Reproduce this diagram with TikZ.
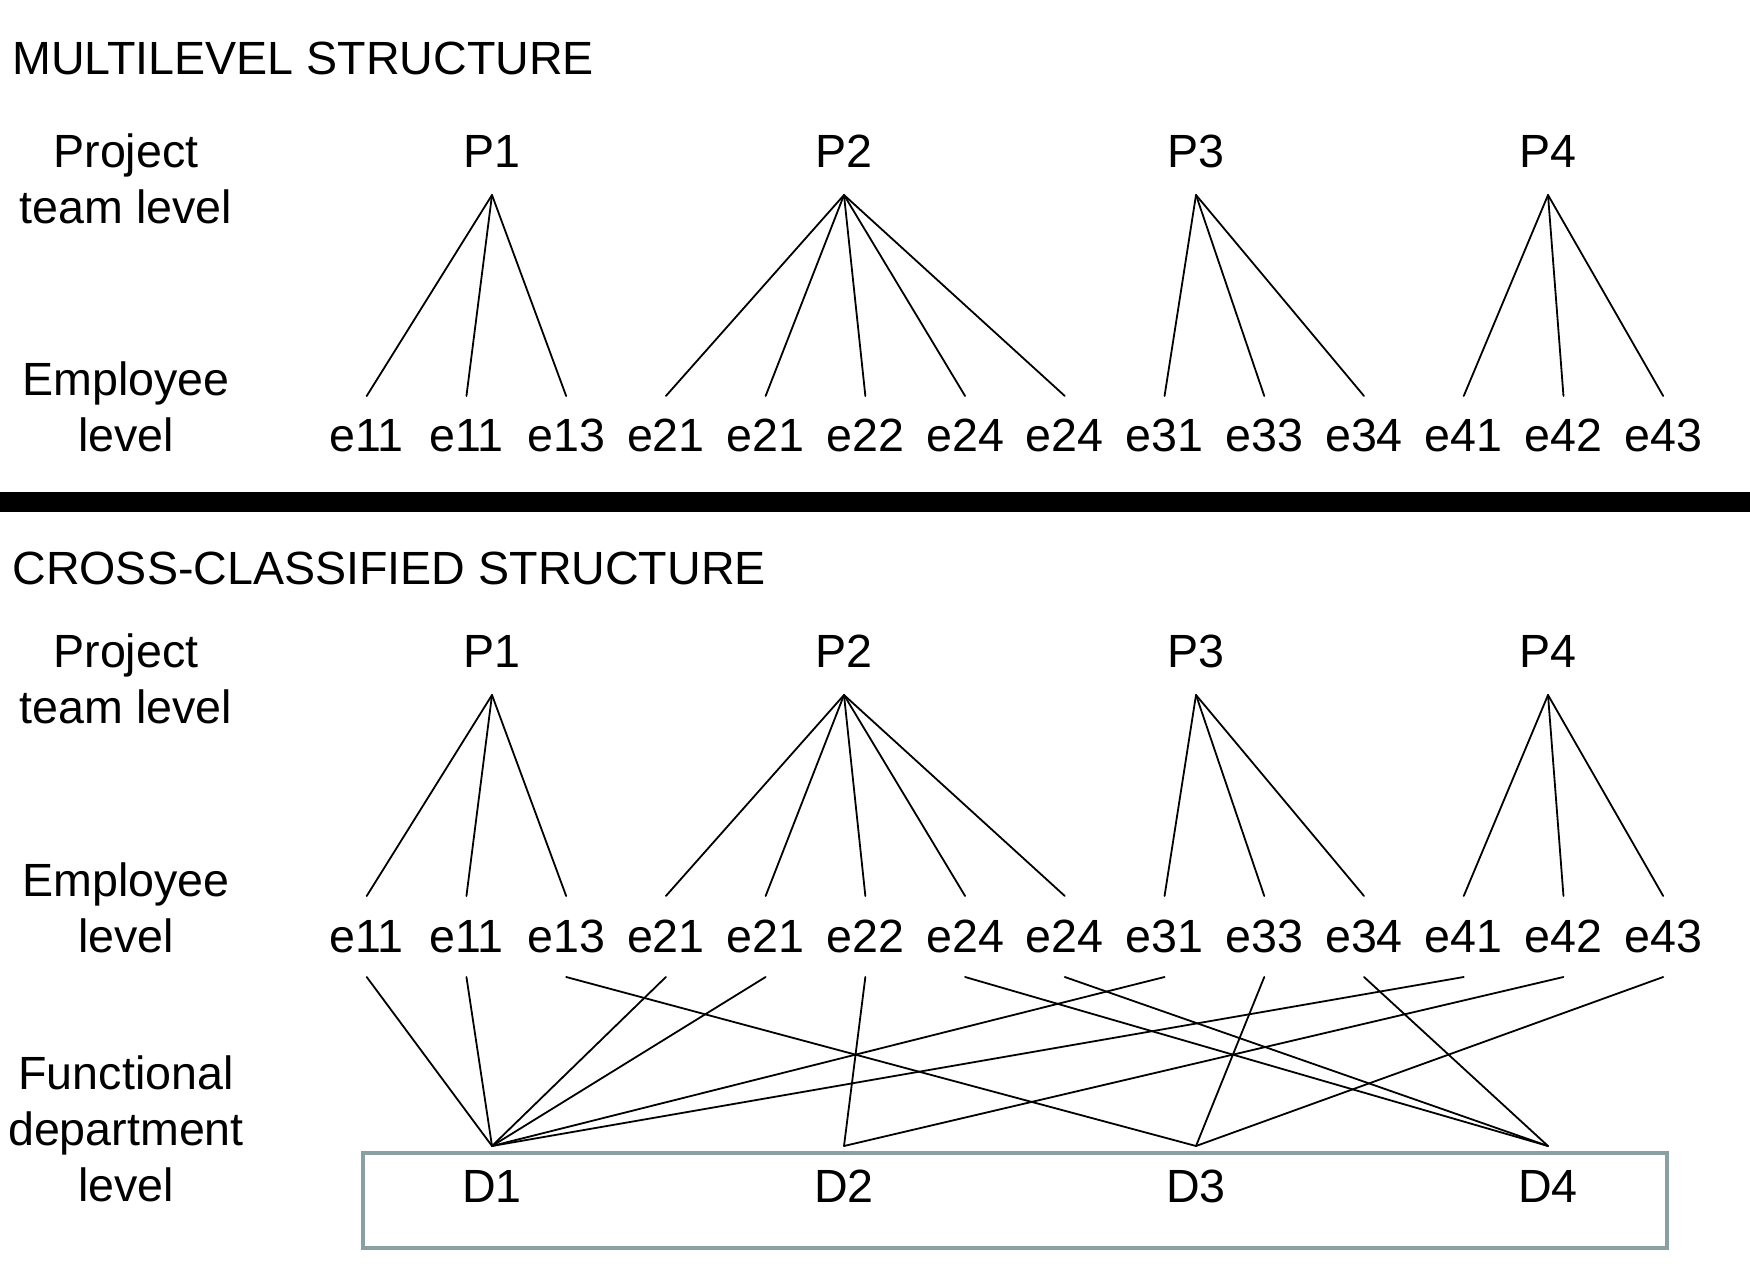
\documentclass[tikz,border=0pt]{standalone}
\usepackage{fontspec}
\setmainfont{Liberation Sans}
\definecolor{boxgray}{RGB}{138,160,164}
\begin{document}
\begin{tikzpicture}[x=0.5pt,y=-0.5pt,
  lbl/.style={anchor=base,inner sep=0pt,font=\fontsize{23.3pt}{28pt}\selectfont},
  link/.style={line width=0.9pt,line cap=round}]
\useasboundingbox (0,0) rectangle (1750,1277);
% titles
\node[lbl,anchor=base west] (t1) at (12,75) {MULTILEVEL STRUCTURE};
\node[lbl,anchor=base west] (t2) at (12,585) {CROSS-CLASSIFIED STRUCTURE};
% separator bar
\fill (0,492) rectangle (1750,512);
% two sections
\foreach \s/\dy in {A/0,B/500}{
  \node[lbl] (\s-proj1) at (126,168+\dy) {Project};
  \node[lbl] (\s-proj2) at (126,224+\dy) {team level};
  \node[lbl] (\s-emp1) at (126,396+\dy) {Employee};
  \node[lbl] (\s-emp2) at (126,452+\dy) {level};
  \foreach \i in {1,...,4}{
    \node[lbl] (\s-P\i) at ({492+352*(\i-1)},168+\dy) {P\i};
    \coordinate (\s-Pa\i) at ({492+352*(\i-1)},195+\dy);
  }
  \foreach [count=\i from 0] \t/\p in {e11/1,e11/1,e13/1,e21/2,e21/2,e22/2,e24/2,e24/2,e31/3,e33/3,e34/3,e41/4,e42/4,e43/4}{
    \node[lbl] (\s-e\i) at ({366.7+99.73*\i},452+\dy) {\t};
    \coordinate (\s-et\i) at ({366.7+99.73*\i},396+\dy);
    \draw[link] (\s-Pa\p) -- (\s-et\i);
  }
}
% functional department level
\node[lbl] (f1) at (126,1089) {Functional};
\node[lbl] (f2) at (126,1145) {department};
\node[lbl] (f3) at (126,1201) {level};
\draw[boxgray,line width=1.6pt] (363,1153) rectangle (1667,1248);
\foreach \i in {1,...,4}{
  \node[lbl] (D\i) at ({492+352*(\i-1)},1202) {D\i};
  \coordinate (Da\i) at ({492+352*(\i-1)},1146);
}
\foreach [count=\i from 0] \d in {1,1,3,1,1,2,4,4,1,3,4,1,2,3}{
  \coordinate (eb\i) at ({366.7+99.73*\i},977);
  \draw[link] (eb\i) -- (Da\d);
}
\end{tikzpicture}
\end{document}
